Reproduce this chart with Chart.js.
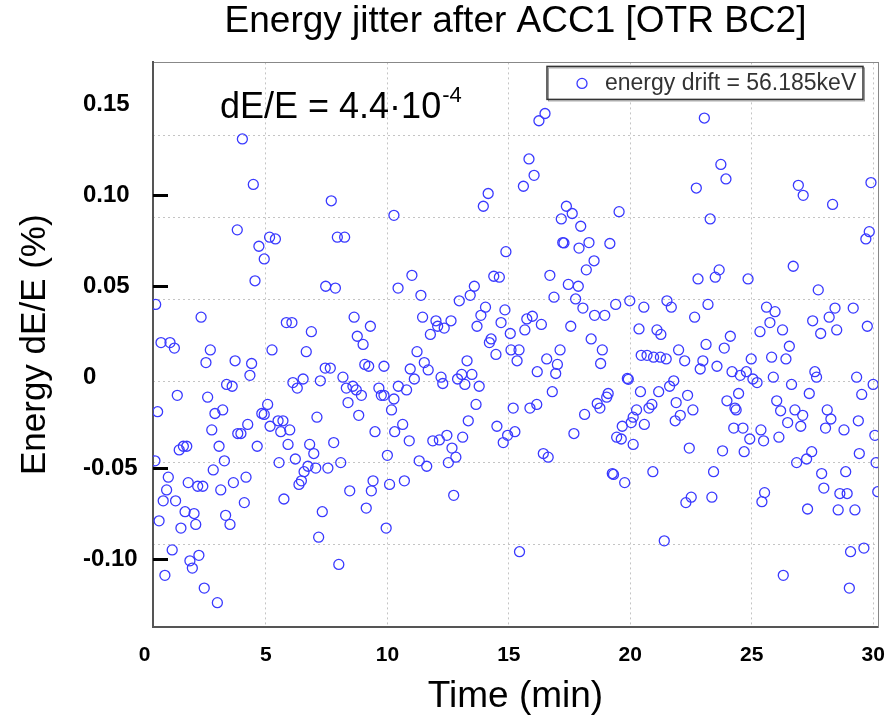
<!DOCTYPE html>
<html>
<head>
<meta charset="utf-8">
<script src="https://cdn.jsdelivr.net/npm/chart.js@4.4.1/dist/chart.umd.min.js"></script>
<style>
  body { margin: 0; background: #fff; }
  canvas { display: block; }
</style>
</head>
<body>
<canvas id="jitter" width="893" height="720"></canvas>
<script>
// time of each shot (min) and its relative energy deviation dE/E (%)
const timeMin = [
  4.03, 4.48, 3.82, 5.15, 5.39, 4.71, 4.93, 4.55, 0.46, 2.33, 0.68, 1.05, 1.23, 2.71, 5.25,
  2.53, 3.73, 4.41, 4.34, 3.38, 3.61, 1.35, 2.60, 0.54, 3.22, 2.90, 5.07, 4.83, 4.93, 5.17,
  4.25, 3.84, 3.97, 2.77, 1.60, 1.43, 1.74, 3.07, 4.64, 0.43, 3.29, 2.83, 0.98, 1.80, 2.19,
  2.40, 0.91, 3.14, 3.66, 4.18, 0.77, 1.28, 4.11, 1.67, 2.04, 3.34, 0.60, 2.11, 3.52, 1.50,
  1.14, 2.24, 1.87, 1.97, 0.84, 2.46, 3.00,
  7.69, 10.27, 7.94, 8.24, 7.46, 7.86, 10.44, 5.84, 6.07, 6.87, 8.63, 9.30, 8.76, 9.00, 6.66,
  7.44, 7.65, 9.07, 9.23, 9.86, 6.11, 6.53, 6.29, 7.24, 8.17, 8.31, 8.58, 8.72, 8.93, 9.65,
  9.75, 9.86, 10.27, 10.17, 8.38, 7.10, 8.82, 5.50, 5.70, 5.61, 5.98, 9.49, 10.30, 5.91, 6.80,
  7.79, 6.97, 10.00, 5.54, 6.21, 6.73, 6.57, 7.05, 7.55, 8.08, 6.46, 6.36, 5.74, 8.45, 9.41,
  9.34, 10.09, 7.32, 9.13, 9.95, 7.17, 8.00,
  14.15, 13.95, 14.88, 11.01, 11.38, 13.58, 13.41, 14.38, 14.61, 12.96, 14.04, 13.85, 13.69, 14.84, 14.68,
  15.06, 11.45, 12.00, 12.07, 12.34, 12.62, 11.77, 14.27, 14.20, 11.22, 15.09, 14.47, 15.34, 11.52, 11.68,
  10.94, 13.28, 11.11, 12.21, 12.28, 12.89, 13.06, 13.48, 13.19, 13.78, 10.45, 10.79, 13.65, 15.18, 13.33,
  10.63, 10.90, 11.87, 12.14, 12.45, 13.10, 12.66, 12.82, 12.51, 11.31, 11.62, 14.51, 14.95, 14.77, 15.25,
  10.70, 12.73, 15.44,
  16.49, 16.24, 15.83, 16.04, 15.60, 17.37, 17.61, 17.16, 17.96, 19.54, 17.22, 17.27, 17.89, 18.30, 19.16,
  18.51, 18.19, 16.69, 17.45, 17.86, 16.86, 17.75, 18.05, 18.53, 18.95, 19.40, 19.98, 20.56, 15.97, 15.74,
  15.66, 16.34, 17.55, 18.39, 20.36, 15.42, 17.11, 18.85, 16.56, 17.00, 16.17, 16.93, 18.78, 19.88, 19.92,
  20.45, 20.42, 16.79, 15.87, 16.15, 18.64, 18.75, 19.09, 19.03, 18.12, 17.68, 20.26, 20.12, 20.04, 19.67,
  19.44, 19.63, 20.12, 16.42, 16.62, 19.26, 19.31, 19.77,
  23.05, 23.73, 23.94, 22.72, 23.29, 23.66, 23.50, 22.79, 24.85, 21.51, 21.69, 23.20, 22.65, 21.10, 21.26,
  25.61, 25.34, 24.12, 23.12, 21.99, 23.87, 20.69, 20.96, 21.24, 21.48, 22.24, 22.99, 22.88, 23.57, 24.19,
  24.78, 24.53, 24.98, 25.05, 25.22, 21.17, 21.62, 21.79, 22.36, 21.89, 22.58, 22.06, 21.85, 20.77, 20.89,
  20.58, 23.98, 24.46, 24.31, 24.36, 24.26, 24.64, 24.92, 25.38, 25.49, 22.43, 23.80, 24.69, 20.93, 23.43,
  22.51, 22.29, 23.36, 25.53, 25.42, 21.40,
  29.91, 26.92, 27.12, 28.33, 29.84, 29.70, 26.71, 27.74, 25.96, 25.75, 26.27, 26.55, 27.51, 27.84, 28.19,
  28.43, 28.50, 29.18, 29.76, 25.82, 26.41, 27.60, 27.67, 25.89, 26.64, 27.37, 29.32, 30.00, 29.53, 26.03,
  26.19, 26.78, 27.10, 26.48, 27.02, 28.11, 28.26, 28.04, 28.80, 29.39, 26.12, 30.07, 29.43, 27.47, 27.26,
  26.85, 30.12, 27.88, 28.87, 27.97, 28.63, 28.93, 30.19, 27.30, 28.56, 29.25, 29.07, 29.62, 26.30, 29.02
];
const energyJitter = [
  0.131, 0.106, 0.081, 0.077, 0.076, 0.072, 0.065, 0.053, 0.040, 0.033, 0.019, 0.019, 0.016, 0.015, 0.015,
  0.008, 0.009, 0.0075, 0.001, -0.004, -0.005, -0.010, -0.011, -0.019, -0.018, -0.020, -0.015, -0.020, -0.0205, -0.027,
  -0.026, -0.031, -0.031, -0.029, -0.038, -0.040, -0.038, -0.038, -0.038, -0.046, -0.046, -0.051, -0.055, -0.058, -0.060,
  -0.060, -0.062, -0.062, -0.058, -0.055, -0.068, -0.068, -0.069, -0.074, -0.075, -0.076, -0.079, -0.081, -0.081, -0.083,
  -0.095, -0.098, -0.101, -0.105, -0.109, -0.116, -0.124,
  0.097, 0.089, 0.077, 0.077, 0.050, 0.049, 0.049, 0.030, 0.030, 0.025, 0.033, 0.028, 0.0225, 0.018, 0.014,
  0.005, 0.005, 0.007, 0.006, 0.006, -0.003, -0.001, -0.006, -0.002, 0.000, -0.006, -0.005, -0.007, -0.010, -0.006,
  -0.010, -0.010, -0.012, -0.018, -0.014, -0.022, -0.021, -0.024, -0.024, -0.030, -0.029, -0.030, -0.030, -0.037, -0.037,
  -0.036, -0.042, -0.043, -0.047, -0.045, -0.049, -0.052, -0.050, -0.050, -0.047, -0.057, -0.059, -0.067, -0.0625, -0.057,
  -0.0625, -0.059, -0.074, -0.072, -0.083, -0.088, -0.103,
  0.101, 0.094, 0.069, 0.056, 0.045, 0.050, 0.045, 0.0555, 0.055, 0.042, 0.0385, 0.034, 0.028, 0.037, 0.030,
  0.024, 0.033, 0.031, 0.028, 0.027, 0.031, 0.0235, 0.021, 0.019, 0.014, 0.015, 0.0125, 0.009, 0.008, 0.004,
  0.0045, 0.009, -0.001, 0.000, -0.0035, -0.001, 0.0015, 0.0015, -0.004, -0.005, -0.005, -0.007, -0.015, -0.017, -0.024,
  -0.026, -0.035, -0.035, -0.0345, -0.032, -0.033, -0.039, -0.044, -0.047, -0.046, -0.049, -0.027, -0.032, -0.036, -0.030,
  -0.057, -0.065, -0.096,
  0.145, 0.141, 0.120, 0.111, 0.105, 0.094, 0.090, 0.087, 0.083, 0.091, 0.074, 0.0738, 0.071, 0.074, 0.0735,
  0.064, 0.059, 0.056, 0.051, 0.050, 0.044, 0.043, 0.038, 0.034, 0.034, 0.040, 0.042, 0.0385, 0.0335, 0.032,
  0.026, 0.029, 0.028, 0.021, 0.0265, 0.015, 0.015, 0.015, 0.010, 0.007, 0.003, 0.002, 0.0075, -0.0007, -0.0012,
  0.012, -0.008, -0.008, -0.017, -0.015, -0.0145, -0.017, -0.009, -0.011, -0.0205, -0.031, -0.018, -0.022, -0.025, -0.027,
  -0.033, -0.034, -0.037, -0.042, -0.044, -0.053, -0.0535, -0.058,
  0.1425, 0.117, 0.109, 0.104, 0.087, 0.059, 0.055, 0.054, 0.054, 0.042, 0.0385, 0.040, 0.033, 0.026, 0.0235,
  0.0385, 0.025, 0.0225, 0.018, 0.015, 0.016, 0.012, 0.011, 0.011, 0.010, 0.009, 0.009, 0.0045, 0.006, 0.003,
  0.003, 0.001, 0.010, -0.001, -0.003, -0.008, -0.005, -0.002, -0.010, -0.014, -0.018, -0.021, -0.024, -0.017, -0.015,
  -0.026, -0.013, -0.009, -0.017, -0.018, -0.028, -0.028, -0.034, -0.029, -0.035, -0.039, -0.0405, -0.041, -0.052, -0.052,
  -0.066, -0.069, -0.066, -0.0635, -0.0685, -0.090,
  0.107, 0.1055, 0.100, 0.095, 0.080, 0.076, 0.061, 0.048, 0.036, 0.030, 0.026, 0.017, 0.031, 0.024, 0.033,
  0.038, 0.026, 0.038, 0.028, 0.011, 0.010, 0.003, 0.000, 0.000, -0.004, -0.009, 0.000, -0.004, -0.0095, -0.013,
  -0.0185, -0.018, -0.021, -0.025, -0.027, -0.018, -0.023, -0.028, -0.029, -0.024, -0.033, -0.032, -0.042, -0.041, -0.045,
  -0.047, -0.047, -0.053, -0.052, -0.061, -0.064, -0.064, -0.063, -0.0725, -0.073, -0.073, -0.096, -0.094, -0.109, -0.116
];
const timeTicks = [0, 5, 10, 15, 20, 25, 30];
const energyTicks = [-0.10, -0.05, 0, 0.05, 0.10, 0.15];
const markedTicks = [0.10, 0.05, -0.05, -0.10];
const legendLabel = 'energy drift = 56.185keV';
const noteText = 'dE/E = 4.4\u00b710';
const noteExp = '-4';

const FONT = "'Liberation Sans', Arial, Helvetica, sans-serif";
const BLUE = '#3a3aff';
const GRID = '#c4c4c4';

const points = timeMin.map((t, i) => ({ x: t, y: energyJitter[i] }));

const overlay = {
  id: 'overlay',
  afterDraw(chart) {
    const { ctx, chartArea: a, scales } = chart;
    ctx.save();
    // short black marks at the labelled values
    ctx.strokeStyle = '#000';
    ctx.lineWidth = 3;
    markedTicks.forEach(v => {
      const py = Math.round(scales.y.getPixelForValue(v)) + 0.5;
      ctx.beginPath();
      ctx.moveTo(a.left, py);
      ctx.lineTo(a.left + 15, py);
      ctx.stroke();
    });

    // legend box in the top right corner
    const ds = chart.data.datasets[0];
    const bx = a.right - 331, by = a.top + 4, bw = 316, bh = 33;
    ctx.fillStyle = '#fff';
    ctx.fillRect(bx, by, bw, bh);
    ctx.strokeStyle = '#999';
    ctx.lineWidth = 1;
    ctx.strokeRect(bx + 1.5, by + 1.5, bw, bh);
    ctx.strokeStyle = '#333';
    ctx.lineWidth = 1.5;
    ctx.strokeRect(bx, by, bw, bh);
    ctx.strokeStyle = ds.borderColor;
    ctx.lineWidth = 1.3;
    ctx.beginPath();
    ctx.arc(bx + 35, by + 17, 5, 0, Math.PI * 2);
    ctx.stroke();
    ctx.fillStyle = '#333';
    ctx.font = '23px ' + FONT;
    ctx.textBaseline = 'middle';
    ctx.fillText(ds.label, bx + 58, by + 17);

    // dE/E note
    ctx.fillStyle = '#000';
    ctx.textBaseline = 'alphabetic';
    ctx.font = '36px ' + FONT;
    const x0 = a.left + 67, base = a.top + 56;
    ctx.fillText(noteText, x0, base);
    const w = ctx.measureText(noteText).width;
    ctx.font = '22px ' + FONT;
    ctx.fillText(noteExp, x0 + w + 1, base - 16);
    ctx.restore();
  }
};

new Chart(document.getElementById('jitter'), {
  type: 'scatter',
  data: {
    datasets: [{
      label: legendLabel,
      data: points,
      pointStyle: 'circle',
      pointRadius: 5,
      pointHoverRadius: 5,
      pointBorderWidth: 1.3,
      borderColor: BLUE,
      backgroundColor: 'rgba(0,0,0,0)'
    }]
  },
  options: {
    responsive: false,
    animation: false,
    devicePixelRatio: 1,
    layout: { padding: { left: 0, right: 15, top: 0, bottom: 0 } },
    scales: {
      x: {
        type: 'linear',
        position: 'bottom',
        min: 0.35,
        max: 30.2,
        afterBuildTicks: s => { s.ticks = timeTicks.map(v => ({ value: v })); },
        afterFit: s => { s.height = 93; },
        grid: {
          drawTicks: true,
          tickLength: 16,
          tickColor: 'rgba(0,0,0,0)',
          color: c => (c.tick && c.tick.value === 0) ? 'rgba(0,0,0,0)' : GRID,
          lineWidth: 1
        },
        border: { display: true, color: '#555', width: 2, dash: [2, 3] },
        ticks: {
          padding: 0,
          color: '#000',
          font: { family: FONT, size: 21, weight: 'bold' },
          callback: v => String(v)
        },
        title: {
          display: true,
          text: 'Time (min)',
          color: '#000',
          font: { family: FONT, size: 37 },
          padding: { top: 0, bottom: 1 }
        }
      },
      xTop: {
        type: 'linear',
        position: 'top',
        min: 0, max: 1,
        afterFit: s => { s.height = 0; },
        grid: { display: false, drawTicks: false },
        ticks: { display: false },
        border: { display: true, color: '#888', width: 1 }
      },
      y: {
        type: 'linear',
        position: 'left',
        weight: 0,
        min: -0.1374,
        max: 0.1731,
        afterBuildTicks: s => { s.ticks = energyTicks.map(v => ({ value: v })); },
        afterFit: s => { s.width = 70; },
        grid: { display: false, drawTicks: false },
        border: { display: true, color: '#555', width: 2 },
        ticks: {
          crossAlign: 'far',
          color: '#000',
          font: { family: FONT, size: 24, weight: 'bold' },
          callback: v => Math.abs(v) < 1e-9 ? '0' : v.toFixed(2)
        }
      },
      yTitle: {
        type: 'linear',
        position: 'left',
        weight: 5,
        min: 0, max: 1,
        afterFit: s => { s.width = 83; },
        grid: { display: false, drawTicks: false },
        ticks: { display: false },
        border: { display: false },
        title: {
          display: true,
          text: 'Energy dE/E (%)',
          color: '#000',
          font: { family: FONT, size: 35 },
          padding: { top: 14, bottom: 0 }
        }
      },
      y2: {
        type: 'linear',
        position: 'right',
        min: -3.01,
        max: 3.9,
        afterFit: s => { s.width = 0; },
        ticks: { display: false, stepSize: 1, includeBounds: false },
        grid: { drawTicks: false, color: GRID, lineWidth: 1 },
        border: { display: true, color: '#888', width: 1, dash: [2, 3] }
      }
    },
    plugins: {
      title: {
        display: true,
        fullSize: false,
        text: 'Energy jitter after ACC1 [OTR BC2]',
        color: '#000',
        font: { family: FONT, size: 37, weight: 'normal' },
        padding: { top: 0, bottom: 18 }
      },
      legend: { display: false },
      tooltip: { enabled: false }
    }
  },
  plugins: [overlay]
});
</script>
</body>
</html>
